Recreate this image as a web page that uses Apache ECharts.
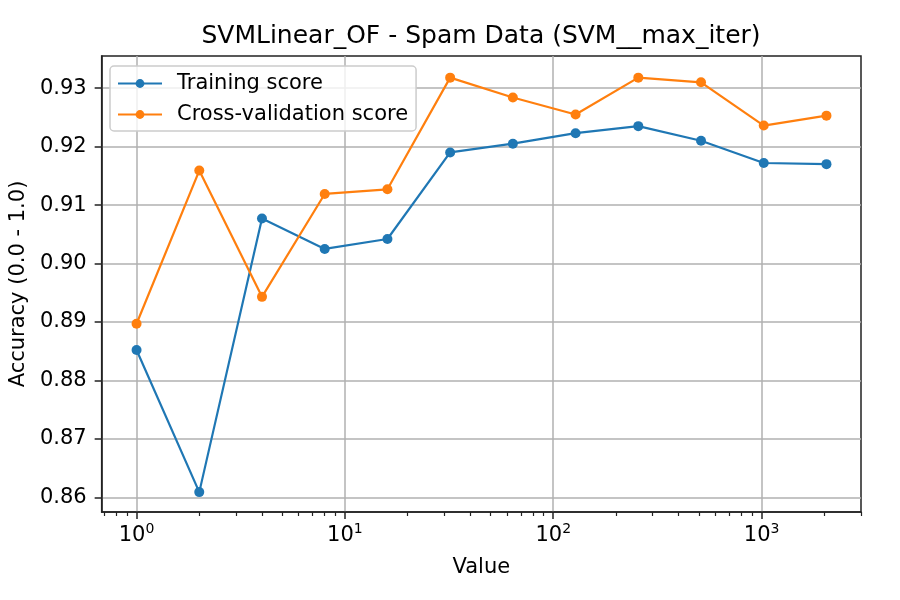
<!DOCTYPE html>
<html>
<head>
<meta charset="utf-8">
<script src="https://cdn.jsdelivr.net/npm/echarts@6/dist/echarts.min.js"></script>
<style>
  html, body { margin: 0; padding: 0; background: #fff; }
  #chart { width: 900px; height: 600px; }
</style>
</head>
<body>
<div id="chart"></div>
<script>
// max_iter values (log x axis)
const maxIter = [1, 2, 4, 8, 16, 32, 64, 128, 256, 512, 1024, 2048];
const trainScore = [0.8852, 0.8609, 0.9077, 0.9025, 0.9042, 0.9190, 0.9205, 0.9223, 0.9235, 0.9210, 0.9172, 0.9170];
const cvScore = [0.8897, 0.9159, 0.8943, 0.9119, 0.9127, 0.9318, 0.9284, 0.9255, 0.9318, 0.9310, 0.9236, 0.9253];

const xMajorTicks = [1, 10, 100, 1000];
const xMinorTicks = [0.7, 0.8, 0.9, 2, 3, 4, 5, 6, 7, 8, 9, 20, 30, 40, 50, 60, 70, 80, 90,
  200, 300, 400, 500, 600, 700, 800, 900, 2000, 3000];
const yTicks = [0.86, 0.87, 0.88, 0.89, 0.90, 0.91, 0.92, 0.93];

const FONT = 'DejaVu Sans';
const chart = echarts.init(document.getElementById('chart'), null, { renderer: 'canvas' });

const option = {
  backgroundColor: '#fff',
  animation: false,
  textStyle: { fontFamily: FONT },
  title: {
    text: 'SVMLinear_OF - Spam Data (SVM__max_iter)',
    left: 476,
    textAlign: 'center',
    top: 19,
    textStyle: { fontFamily: FONT, fontSize: 25, fontWeight: 'normal', color: '#000' }
  },
  legend: {
    orient: 'vertical',
    left: 110,
    top: 66,
    padding: [7, 8, 6, 7],
    itemWidth: 44,
    itemHeight: 11,
    itemGap: 10,
    borderColor: '#cccccc',
    borderWidth: 1.5,
    borderRadius: 4,
    backgroundColor: 'rgba(255,255,255,0.8)',
    textStyle: { fontFamily: FONT, fontSize: 21, color: '#000', padding: [0, 0, 0, 10] },
    data: ['Training score', 'Cross-validation score']
  },
  grid: {
    left: 99, right: 39, top: 56, bottom: 88,
    show: true,
    borderColor: '#222',
    borderWidth: 1.5,
    containLabel: false
  },
  xAxis: [{
    type: 'log',
    logBase: 10,
    min: 0.68,
    max: 3000,
    position: 'bottom',
    name: 'Value',
    nameLocation: 'middle',
    nameGap: 45,
    nameTextStyle: { fontFamily: FONT, fontSize: 21, color: '#000' },
    axisLine: { show: true, lineStyle: { color: '#222', width: 1.5 } },
    axisTick: { show: true, length: 7, lineStyle: { color: '#222', width: 1.5 }, customValues: xMajorTicks },
    axisLabel: {
      customValues: xMajorTicks,
      margin: 10,
      formatter: v => '{b|10}{s|' + Math.round(Math.log10(v)) + '}',
      rich: {
        b: { fontFamily: FONT, fontSize: 21, color: '#000', verticalAlign: 'bottom' },
        s: { fontFamily: FONT, fontSize: 14, color: '#000', verticalAlign: 'bottom', padding: [0, 0, 10, 0] }
      }
    },
    splitLine: { show: true, lineStyle: { color: '#b0b0b0', width: 1.5 } }
  }, {
    type: 'log',
    logBase: 10,
    min: 0.68,
    max: 3000,
    position: 'bottom',
    gridIndex: 0,
    axisLine: { show: false },
    axisTick: { show: true, length: 4, lineStyle: { color: '#222', width: 1.2 }, customValues: xMinorTicks },
    axisLabel: { show: false },
    splitLine: { show: false }
  }],
  yAxis: {
    type: 'value',
    min: 0.8575,
    max: 0.9355,
    name: 'Accuracy (0.0 - 1.0)',
    nameLocation: 'middle',
    nameGap: 70,
    nameTextStyle: { fontFamily: FONT, fontSize: 21, color: '#000' },
    axisLine: { show: true, lineStyle: { color: '#222', width: 1.5 } },
    axisTick: { show: true, length: 7, lineStyle: { color: '#222', width: 1.5 }, customValues: yTicks },
    axisLabel: {
      customValues: yTicks,
      margin: 15,
      fontFamily: FONT,
      fontSize: 21,
      color: '#000',
      formatter: v => v.toFixed(2)
    },
    splitLine: { show: true, lineStyle: { color: '#b0b0b0', width: 1.5 } }
  },
  series: [{
    name: 'Training score',
    type: 'line',
    xAxisIndex: 0,
    data: maxIter.map((x, i) => [x, trainScore[i]]),
    symbol: 'circle',
    symbolSize: 10,
    color: '#1f77b4',
    lineStyle: { width: 2.2 },
    z: 3
  }, {
    name: 'Cross-validation score',
    type: 'line',
    xAxisIndex: 0,
    data: maxIter.map((x, i) => [x, cvScore[i]]),
    symbol: 'circle',
    symbolSize: 10,
    color: '#ff7f0e',
    lineStyle: { width: 2.2 },
    z: 3
  }]
};

chart.setOption(option);
</script>
</body>
</html>
